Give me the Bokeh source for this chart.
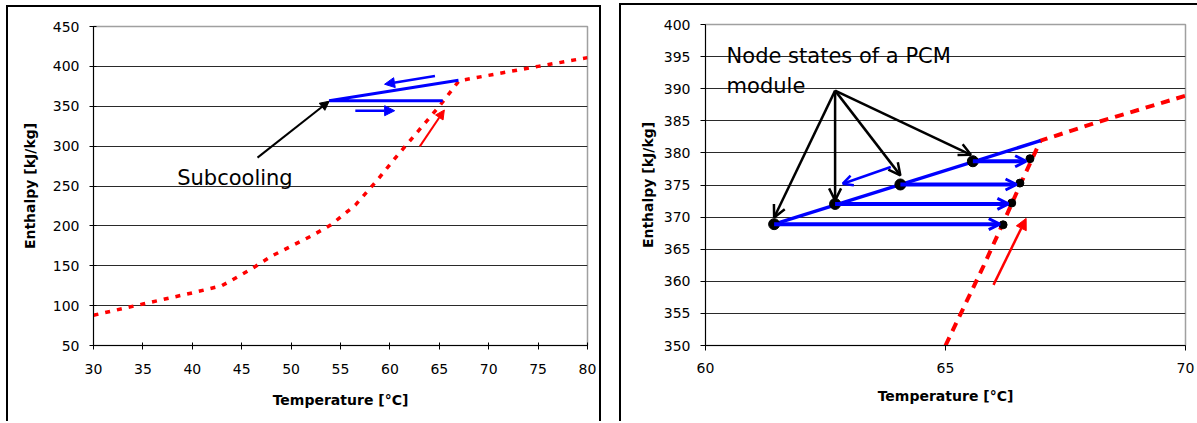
from bokeh.plotting import figure
from bokeh.models import Range1d, FixedTicker, Arrow, NormalHead, OpenHead, ColumnDataSource
from bokeh.layouts import row
from bokeh.embed import file_html
from bokeh.resources import INLINE
from bokeh.core.properties import value

# ---------------- Left panel data ----------------
left_x_ticks = [30, 35, 40, 45, 50, 55, 60, 65, 70, 75, 80]
left_y_ticks = [50, 100, 150, 200, 250, 300, 350, 400, 450]

left_melt_temp = [30, 35, 40, 43, 46, 48, 52, 54, 56.5, 58.7, 60.6, 62.6, 65, 67, 71, 75, 80]
left_melt_enth = [88, 102, 116, 125, 146, 162, 187, 201, 226, 257, 286, 315, 350, 382, 391, 400, 411]

left_cool_temp = [66.94, 53.85, 65.34]
left_cool_enth = [382.5, 356.8, 356.8]

left_blue_x0 = [64.56, 56.5]
left_blue_y0 = [387.9, 344.4]
left_blue_x1 = [59.46, 60.48]
left_blue_y1 = [377.6, 344.4]

left_black_x0 = [46.6]
left_black_y0 = [285.6]
left_black_x1 = [53.85]
left_black_y1 = [356.3]

left_red_x0 = [63.03]
left_red_y0 = [299.7]
left_red_x1 = [65.51]
left_red_y1 = [345.3]

left_label_x = [38.47]
left_label_y = [260]
left_label_text = ["Subcooling"]

# ---------------- Right panel data ----------------
right_x_ticks = [60, 65, 70]
right_y_ticks = [350, 355, 360, 365, 370, 375, 380, 385, 390, 395, 400]

right_melt_temp = [65.0, 65.8, 66.25, 66.56, 66.98, 68.15, 70.0]
right_melt_enth = [350, 362.5, 369.9, 375.1, 381.9, 384.75, 388.9]

right_cool_temp = [61.43, 66.98]
right_cool_enth = [368.9, 381.9]

node_temp = [61.43, 62.7, 64.06, 65.57]
node_enth = [368.9, 372.05, 375.08, 378.7]

state_temp = [66.2, 66.38, 66.55, 66.76]
state_enth = [368.8, 372.2, 375.3, 379.1]

heat_end_temp = [66.13, 66.31, 66.48, 66.68]

pointer_x0 = [62.7, 62.7, 62.7, 62.7]
pointer_y0 = [389.7, 389.7, 389.7, 389.7]
pointer_x1 = [61.43, 62.7, 64.06, 65.53]
pointer_y1 = [369.95, 372.6, 376.5, 379.7]

right_thin_x0 = [63.86]
right_thin_y0 = [377.8]
right_thin_x1 = [62.86]
right_thin_y1 = [375.2]

right_red_x0 = [66.0]
right_red_y0 = [359.45]
right_red_x1 = [66.68]
right_red_y1 = [369.8]

right_label_x = [60.44, 60.44]
right_label_y = [395.15, 390.4]
right_label_text = ["Node states of a PCM", "module"]

FONT = "DejaVu Sans"
GRID = "#2a2a2a"


def style(p, xt, yt, tick_in, tick_out, xstand, ystand, xtitle_stand, ytitle_stand):
    p.xaxis.ticker = FixedTicker(ticks=xt)
    p.yaxis.ticker = FixedTicker(ticks=yt)
    p.xgrid.visible = False
    p.ygrid.ticker = FixedTicker(ticks=yt)
    p.ygrid.grid_line_color = GRID
    p.ygrid.grid_line_width = 1
    p.outline_line_color = "#a0a0a0"
    p.outline_line_width = 1.5
    for ax in (p.xaxis, p.yaxis):
        ax.axis_line_color = "black"
        ax.axis_line_width = 1
        ax.major_tick_line_color = "black"
        ax.major_tick_in = tick_in
        ax.major_tick_out = tick_out
        ax.minor_tick_line_color = None
        ax.major_label_text_font = FONT
        ax.major_label_text_font_size = "14px"
        ax.major_label_text_color = "black"
        ax.axis_label_text_font = FONT
        ax.axis_label_text_font_size = "14px"
        ax.axis_label_text_font_style = "bold"
        ax.axis_label_text_color = "black"
    p.xaxis.major_label_standoff = xstand
    p.yaxis.major_label_standoff = ystand
    p.xaxis.axis_label_standoff = xtitle_stand
    p.yaxis.axis_label_standoff = ytitle_stand
    p.xaxis.axis_label = "Temperature [°C]"
    p.yaxis.axis_label = "Enthalpy [kJ/kg]"


def arrows(p, x0, y0, x1, y1, color, width, head):
    src = ColumnDataSource(dict(x0=x0, y0=y0, x1=x1, y1=y1))
    p.add_layout(Arrow(end=head, x_start="x0", y_start="y0", x_end="x1", y_end="y1",
                       source=src, line_color=color, line_width=width))


# ---------------- Left figure ----------------
p1 = figure(width=591, height=414, output_backend="svg", toolbar_location=None,
            x_range=Range1d(30, 80), y_range=Range1d(50, 450),
            min_border_left=85, min_border_right=16, min_border_top=18, min_border_bottom=74,
            styles={"box-sizing": "content-box",
                    "border-left": "2px solid black", "border-top": "2px solid black",
                    "border-right": "2px solid black"})
p1.margin = (5, 0, 0, 6)
style(p1, left_x_ticks, left_y_ticks, 3, 4, 14, 10, 15, 12)

p1.line(left_melt_temp, left_melt_enth, line_color="red", line_width=3.5, line_dash="5 7")
p1.line(left_cool_temp, left_cool_enth, line_color="blue", line_width=3)
arrows(p1, left_blue_x0, left_blue_y0, left_blue_x1, left_blue_y1, "blue", 2.5,
       NormalHead(size=10, fill_color="blue", line_color="blue"))
arrows(p1, left_black_x0, left_black_y0, left_black_x1, left_black_y1, "black", 2,
       NormalHead(size=9, fill_color="black", line_color="black"))
arrows(p1, left_red_x0, left_red_y0, left_red_x1, left_red_y1, "red", 2,
       NormalHead(size=9, fill_color="red", line_color="red"))
p1.text(x=left_label_x, y=left_label_y, text=left_label_text, text_font=value(FONT),
        text_font_size="21px", text_baseline="alphabetic", text_color="black")

# ---------------- Right figure ----------------
p2 = figure(width=576, height=416, output_backend="svg", toolbar_location=None,
            x_range=Range1d(60, 70), y_range=Range1d(350, 400),
            min_border_left=84, min_border_right=14, min_border_top=19, min_border_bottom=78,
            styles={"box-sizing": "content-box",
                    "border-left": "2px solid black", "border-top": "2px solid black"})
p2.margin = (3, 0, 0, 0)
style(p2, right_x_ticks, right_y_ticks, 0, 5, 12, 10, 12, 5)

p2.line(right_melt_temp, right_melt_enth, line_color="red", line_width=4, line_dash="9 7")
p2.line(right_cool_temp, right_cool_enth, line_color="blue", line_width=3.5)
arrows(p2, node_temp, node_enth, heat_end_temp, node_enth, "blue", 4,
       OpenHead(size=11, line_color="blue", line_width=3))
arrows(p2, pointer_x0, pointer_y0, pointer_x1, pointer_y1, "black", 2.5,
       OpenHead(size=12, line_color="black", line_width=2.5))
arrows(p2, right_thin_x0, right_thin_y0, right_thin_x1, right_thin_y1, "blue", 2.5,
       OpenHead(size=10, line_color="blue", line_width=2.5))
arrows(p2, right_red_x0, right_red_y0, right_red_x1, right_red_y1, "red", 2.5,
       NormalHead(size=11, fill_color="red", line_color="red"))
p2.scatter(node_temp, node_enth, size=11, fill_color="black", line_color="black")
p2.scatter(state_temp, state_enth, size=8, fill_color="black", line_color="black")
p2.text(x=right_label_x, y=right_label_y, text=right_label_text, text_font=value(FONT),
        text_font_size="21px", text_baseline="alphabetic", text_color="black")

layout = row(p1, p2, spacing=18)
open("out.html", "w").write(file_html(layout, INLINE))
